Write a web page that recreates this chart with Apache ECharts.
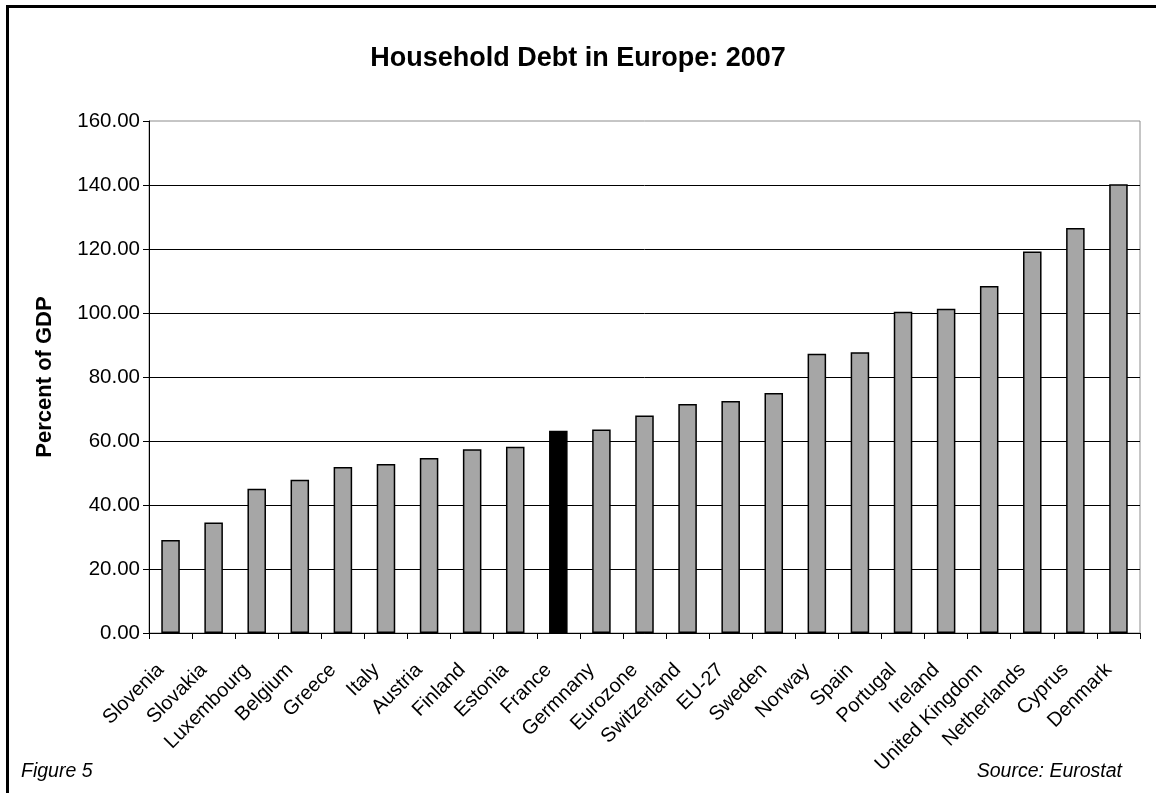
<!DOCTYPE html>
<html>
<head>
<meta charset="utf-8">
<script src="https://cdn.jsdelivr.net/npm/echarts@6/dist/echarts.min.js"></script>
<style>
  html, body { margin: 0; padding: 0; background: #fff; }
  #chart { width: 1156px; height: 793px; }
</style>
</head>
<body>
<div id="chart"></div>
<script>
// Household debt as a percent of GDP, 2007 (Eurostat)
const countries = ['Slovenia', 'Slovakia', 'Luxembourg', 'Belgium', 'Greece', 'Italy', 'Austria',
  'Finland', 'Estonia', 'France', 'Germnany', 'Eurozone', 'Switzerland', 'EU-27', 'Sweden',
  'Norway', 'Spain', 'Portugal', 'Ireland', 'United Kingdom', 'Netherlands', 'Cyprus', 'Denmark'];
const debtPct = [29.1, 34.5, 45.1, 47.9, 51.9, 52.8, 54.7, 57.4, 58.2, 63.2, 63.6, 68.0, 71.6,
  72.5, 75.0, 87.3, 87.7, 100.4, 101.3, 108.4, 119.2, 126.6, 140.2];
const highlighted = 'France';
const yTicks = { min: 0, max: 160, interval: 20 };

const FONT = '"Liberation Sans", Arial, sans-serif';
const chart = echarts.init(document.getElementById('chart'), null, { renderer: 'canvas' });

const barData = debtPct.map((v, i) => ({
  value: v,
  itemStyle: countries[i] === highlighted ? { color: '#000000' } : undefined
}));

chart.setOption({
  backgroundColor: '#ffffff',
  animation: false,
  title: {
    text: 'Household Debt in Europe: 2007',
    left: 'center',
    top: 40,
    textStyle: { fontFamily: FONT, fontSize: 27, fontWeight: 'bold', color: '#000' }
  },
  grid: {
    left: 149, right: 16, top: 121, bottom: 160,
    show: true, borderColor: '#8c8c8c', borderWidth: 1, backgroundColor: 'transparent'
  },
  xAxis: {
    type: 'category',
    data: countries,
    boundaryGap: true,
    axisLine: { lineStyle: { color: '#000', width: 1 } },
    axisTick: { show: true, length: 6, lineStyle: { color: '#000' } },
    axisLabel: {
      rotate: 45, interval: 0, margin: 24,
      padding: [0, 14, 0, 0],
      fontFamily: FONT, fontSize: 20, color: '#000'
    }
  },
  yAxis: {
    type: 'value',
    min: yTicks.min, max: yTicks.max, interval: yTicks.interval,
    name: 'Percent of GDP',
    nameLocation: 'middle',
    nameRotate: 90,
    nameGap: 93,
    nameTextStyle: { fontFamily: FONT, fontSize: 22, fontWeight: 'bold', color: '#000' },
    axisLine: { show: true, lineStyle: { color: '#000', width: 1 } },
    axisTick: { show: true, inside: false, length: 6, lineStyle: { color: '#000' } },
    axisLabel: {
      margin: 9, fontFamily: FONT, fontSize: 20.5, color: '#000',
      formatter: v => v.toFixed(2)
    },
    splitLine: { show: true, showMaxLine: false, lineStyle: { color: '#000', width: 1 } }
  },
  series: [{
    type: 'bar',
    data: barData,
    barWidth: '43%',
    itemStyle: { color: '#a6a6a6', borderColor: '#000', borderWidth: 1.5 },
    z: 3
  }],
  graphic: [
    { type: 'rect', shape: { x: 6, y: 5, width: 1150, height: 3 }, style: { fill: '#000' } },
    { type: 'rect', shape: { x: 6, y: 5, width: 3, height: 788 }, style: { fill: '#000' } },
    {
      type: 'text', left: 21, top: 762,
      style: { text: 'Figure 5', fontFamily: FONT, fontSize: 19.5, fontStyle: 'italic', fill: '#000' }
    },
    {
      type: 'text', right: 34, top: 762,
      style: { text: 'Source: Eurostat', fontFamily: FONT, fontSize: 19.5, fontStyle: 'italic', fill: '#000' }
    }
  ]
});
</script>
</body>
</html>
